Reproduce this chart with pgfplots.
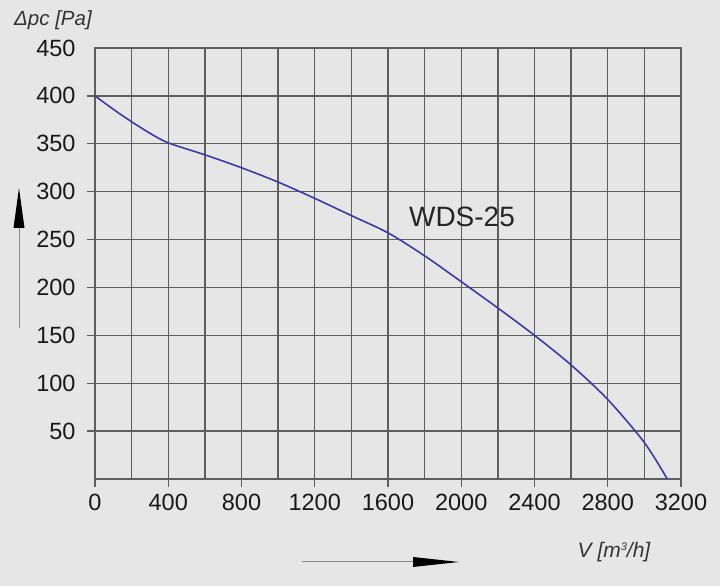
\documentclass[border=0pt]{standalone}
\usepackage{fontspec}
\setmainfont{Liberation Sans}
\usepackage{pgfplots}
\pgfplotsset{compat=1.18}
\definecolor{bg}{HTML}{E6E6E6}
\definecolor{gridc}{HTML}{5E5E5E}
\definecolor{curve}{HTML}{3C3CA0}
\definecolor{arrowline}{HTML}{8A8A8A}
\begin{document}
\begin{tikzpicture}[x=1pt,y=1pt]
  \fill[bg] (0,0) rectangle (720,586);
  \begin{axis}[
      at={(95pt,107pt)}, anchor=south west,
      scale only axis, width=586pt, height=431pt,
      xmin=0, xmax=3200, ymin=0, ymax=450,
      xtick={0,400,...,3200},
      minor xtick={200,600,...,3000},
      ytick={50,100,...,400},
      extra y ticks={450},
      extra y tick style={major tick length=0pt},
      xtick pos=bottom, ytick pos=left,
      tick align=outside,
      major tick length=8pt, minor tick length=0pt,
      grid=both,
      grid style={gridc, line width=1.3pt},
      minor grid style={gridc, line width=1.3pt},
      major grid style={gridc, line width=1.3pt},
      axis line style={gridc, line width=1.3pt},
      tick style={gridc, line width=1.3pt},
      ticklabel style={font=\fontsize{23.5}{27}\selectfont, text=black!90},
      yticklabel style={xshift=-8pt},
      extra y tick style={major tick length=0pt, yticklabel style={xshift=-8pt}},
      xticklabel style={yshift=-4pt},
      /pgf/number format/assume math mode=true,
      /pgf/number format/1000 sep={},
    ]
    \addplot[curve, line width=1.6pt, smooth, tension=0.5] coordinates {
      (0,400) (100,386) (200,373) (300,361) (400,351)
      (600,338.5) (800,325) (1000,310) (1200,293) (1400,275)
      (1600,257) (1800,233) (2000,206) (2200,178.5) (2400,150)
      (2600,119) (2800,83) (3000,38) (3125,0)
    };
    \node[font=\fontsize{28}{32}\selectfont, text=black!85] at (axis cs:2004,274) {WDS-25};
  \end{axis}
  % axis titles and direction arrows
  \node[font=\fontsize{20.5}{24}\selectfont\itshape, text=black!80] at (53,566) {Δpc [Pa]};
  \node[font=\fontsize{21}{24}\selectfont\itshape, text=black!80] at (614,34) {V [m\raisebox{0.6ex}{\fontsize{11}{12}\selectfont 3}/h]};
  \draw[arrowline, line width=1pt] (19,258) -- (19,370);
  \fill[black] (19,398) -- (13.5,358) -- (24.5,358) -- cycle;
  \draw[arrowline, line width=1pt] (302,24) -- (430,24);
  \fill[black] (459,24) -- (413,29) -- (413,19) -- cycle;
\end{tikzpicture}
\end{document}
